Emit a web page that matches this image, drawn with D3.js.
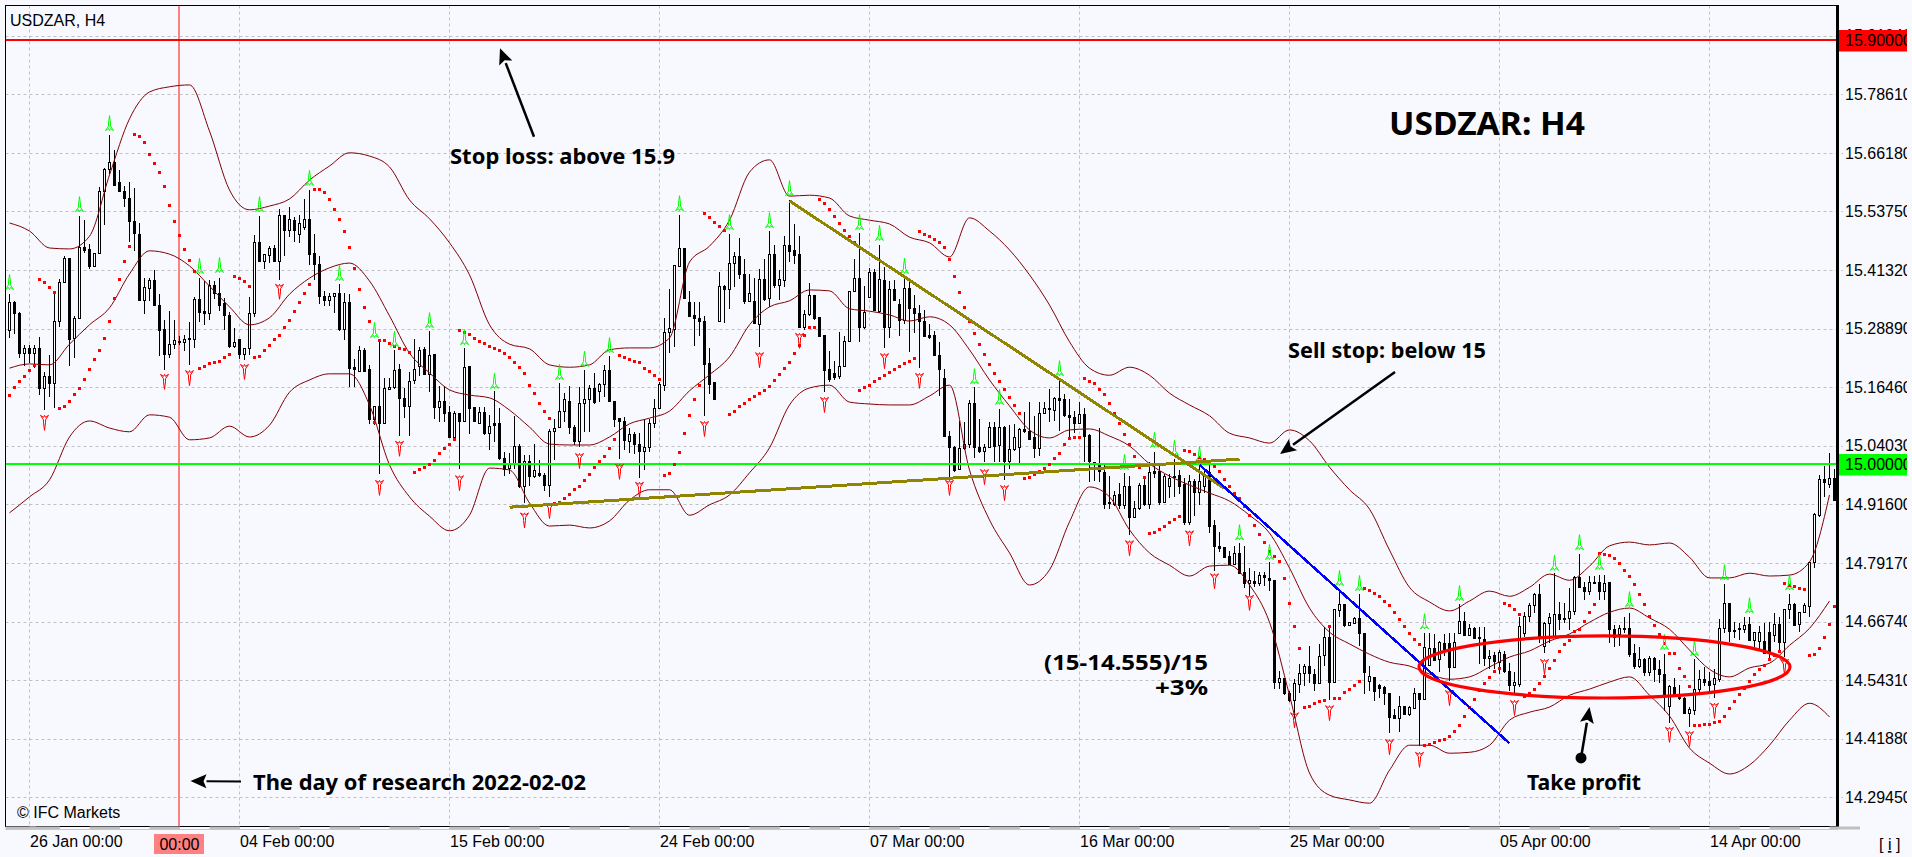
<!DOCTYPE html>
<html>
<head>
<meta charset="utf-8">
<title>USDZAR H4</title>
<script src="https://cdn.jsdelivr.net/npm/d3@7"></script>
<style>
body { margin: 0; background: #f8f9ff; }
svg { display: block; }
text { font-family: "Liberation Sans", Arial, sans-serif; fill: #000; }
</style>
</head>
<body>
<svg id="chart" width="1912" height="857"></svg>
<script>
// Candles, one per H4 bar, prices in thousandths
var opens = [
15284,15345,15320,15237,15246,15237,15246,15161,15187,15172,
15303,15387,15437,15267,15311,15461,15456,15420,15449,15580,
15626,15641,15599,15580,15565,15517,15489,15349,15375,15392,
15339,15287,15234,15255,15262,15260,15267,15266,15350,15325,
15322,15380,15364,15343,15316,15252,15266,15235,15246,15322,
15472,15431,15444,15459,15431,15529,15497,15518,15489,15504,
15521,15448,15424,15357,15348,15358,15363,15288,15344,15207,
15199,15243,15202,15097,15123,15088,15160,15164,15203,15141,
15124,15179,15209,15244,15191,15233,15121,15135,15110,15057,
15108,15092,15208,15122,15088,15112,15067,15087,15087,15014,
14992,15003,15038,14953,15008,14976,14982,14977,14957,15070,
15080,15113,15135,15080,15049,15131,15138,15162,15156,15170,
15201,15135,15098,15091,15049,15064,15043,15029,15036,15087,
15119,15168,15281,15288,15421,15458,15344,15316,15310,15303,
15214,15174,15305,15379,15372,15427,15441,15404,15346,15347,
15298,15393,15352,15446,15380,15392,15465,15455,15446,15291,
15319,15359,15312,15275,15203,15194,15188,15208,15261,15367,
15395,15291,15354,15407,15326,15392,15292,15372,15340,15306,
15374,15331,15320,15304,15275,15275,15232,15184,15060,15037,
14991,15035,15042,15130,15037,15028,15037,15079,15040,15079,
15008,15032,15037,15074,15070,15058,15035,15109,15120,15116,
15141,15138,15105,15100,15087,15107,15063,15005,15002,14983,
14921,14916,14937,14914,14954,14889,14907,14956,14916,14986,
14986,14921,14955,14975,14978,14959,14877,14964,14942,14955,
14983,14872,14826,14824,14805,14789,14812,14771,14749,14753,
14748,14766,14759,14755,14539,14547,14514,14500,14534,14557,
14572,14556,14535,14595,14634,14539,14690,14704,14659,14664,
14673,14643,14540,14549,14531,14528,14515,14467,14462,14488,
14471,14483,14514,14503,14574,14611,14586,14620,14620,14570,
14643,14668,14637,14653,14632,14630,14588,14595,14581,14597,
14561,14531,14533,14643,14679,14701,14725,14614,14664,14635,
14683,14674,14674,14688,14761,14739,14731,14751,14751,14732,
14751,14650,14639,14653,14653,14599,14572,14586,14560,14590,
14565,14556,14487,14528,14512,14505,14473,14479,14524,14544,
14540,14533,14544,14653,14705,14648,14653,14651,14662,14627,
14626,14626,14645,14637,14662,14623,14693,14704,14662,14687,
14699,14793,14893,14969,14958,14971];

var highs = [
15362,15348,15325,15255,15255,15255,15271,15197,15234,15368,
15394,15442,15438,15315,15527,15520,15468,15450,15590,15630,
15699,15667,15625,15591,15599,15588,15514,15396,15396,15413,
15362,15308,15327,15308,15273,15275,15303,15356,15397,15389,
15392,15391,15396,15354,15325,15290,15266,15247,15357,15487,
15527,15447,15464,15466,15543,15529,15547,15526,15530,15563,
15582,15490,15442,15368,15364,15363,15383,15364,15362,15224,
15251,15247,15212,15125,15263,15184,15184,15244,15214,15163,
15196,15267,15249,15249,15284,15233,15168,15168,15125,15115,
15108,15247,15208,15122,15122,15122,15106,15156,15120,15027,
15024,15103,15045,15020,15020,15045,15010,14982,15077,15098,
15174,15152,15167,15084,15165,15201,15169,15194,15173,15212,
15231,15135,15099,15102,15078,15070,15068,15098,15098,15140,
15175,15312,15372,15423,15530,15460,15369,15345,15345,15315,
15248,15174,15409,15381,15489,15452,15482,15436,15405,15397,
15416,15437,15497,15467,15413,15485,15561,15510,15486,15328,
15385,15361,15313,15275,15241,15220,15282,15273,15368,15436,
15492,15379,15418,15416,15467,15420,15390,15392,15351,15400,
15390,15360,15340,15328,15298,15284,15261,15203,15072,15040,
15093,15091,15138,15164,15097,15045,15090,15090,15119,15083,
15084,15086,15079,15111,15133,15104,15133,15133,15160,15143,
15180,15150,15140,15114,15133,15121,15065,15006,15079,15001,
14976,14944,14962,14982,14976,14923,14962,14976,15005,15028,
14997,14980,14980,15012,14990,14973,14978,14969,14999,14987,
14999,14882,14858,14826,14817,14827,14835,14827,14782,14775,
14772,14772,14794,14755,14563,14547,14521,14546,14577,14577,
14616,14567,14620,14656,14659,14694,14733,14704,14666,14678,
14726,14644,14574,14549,14535,14531,14515,14481,14510,14488,
14488,14526,14514,14644,14643,14641,14627,14641,14644,14644,
14704,14687,14662,14655,14655,14656,14606,14602,14606,14604,
14580,14561,14678,14688,14706,14727,14747,14667,14685,14770,
14708,14706,14739,14764,14810,14752,14764,14764,14767,14766,
14752,14660,14660,14678,14685,14619,14614,14590,14595,14592,
14586,14599,14533,14547,14533,14508,14487,14587,14565,14572,
14561,14566,14672,14747,14706,14667,14664,14678,14678,14646,
14657,14665,14667,14685,14678,14695,14725,14706,14687,14706,
14794,14897,14979,14997,15024,14992];

var lows = [
15268,15278,15226,15209,15216,15206,15149,15116,15144,15121,
15292,15385,15209,15227,15309,15449,15416,15419,15449,15509,
15618,15591,15579,15547,15473,15454,15349,15320,15347,15339,
15230,15202,15227,15246,15255,15241,15211,15248,15303,15297,
15308,15352,15327,15287,15248,15247,15225,15223,15234,15313,
15431,15416,15428,15431,15392,15444,15484,15473,15470,15499,
15423,15392,15341,15337,15337,15323,15284,15265,15166,15166,
15196,15198,15087,15084,14980,15088,15160,15161,15061,15100,
15061,15172,15189,15191,15155,15098,15091,15091,15057,15050,
14991,15092,15066,15092,15088,15063,15031,15049,15010,14977,
14981,14992,14950,14918,14954,14971,14975,14945,14931,15011,
15080,15091,15065,15042,15038,15070,15069,15130,15133,15143,
15133,15080,15013,15031,15024,15022,14973,14989,15027,15078,
15119,15157,15238,15250,15421,15353,15315,15252,15273,15104,
15150,15139,15305,15301,15331,15378,15394,15342,15346,15298,
15250,15347,15335,15376,15349,15377,15430,15425,15291,15287,
15316,15308,15273,15155,15176,15179,15181,15208,15261,15366,
15260,15289,15353,15328,15323,15247,15268,15347,15273,15298,
15239,15279,15205,15272,15266,15231,15145,15060,14975,14985,
14989,15032,15035,15014,15026,15005,15035,15005,15005,14967,
14991,15030,15001,15068,15053,15015,15018,15107,15090,15093,
15071,15102,15056,15068,15087,15005,14964,14966,14964,14906,
14907,14913,14907,14906,14851,14888,14904,14913,14906,14973,
14915,14920,14930,14932,14937,14872,14872,14892,14914,14941,
14856,14775,14814,14802,14788,14788,14768,14738,14722,14740,
14742,14742,14733,14524,14524,14512,14496,14462,14516,14531,
14537,14521,14535,14574,14502,14537,14676,14655,14657,14662,
14616,14514,14521,14498,14505,14491,14431,14462,14434,14471,
14466,14482,14404,14503,14574,14583,14560,14595,14542,14570,
14643,14636,14636,14630,14577,14574,14567,14567,14556,14558,
14519,14515,14528,14635,14667,14685,14621,14600,14621,14635,
14650,14664,14650,14681,14738,14713,14724,14747,14713,14713,
14621,14614,14616,14644,14592,14566,14568,14551,14552,14540,
14537,14477,14452,14508,14501,14472,14443,14470,14515,14530,
14519,14505,14540,14644,14625,14632,14628,14644,14628,14614,
14607,14600,14586,14625,14607,14593,14672,14657,14646,14685,
14678,14782,14890,14932,14950,14924];

var closes = [
15345,15321,15237,15246,15237,15246,15161,15187,15173,15303,
15387,15438,15266,15311,15461,15454,15420,15449,15580,15626,
15642,15592,15579,15565,15516,15490,15349,15377,15391,15339,
15285,15234,15256,15263,15260,15266,15266,15350,15323,15322,
15380,15363,15339,15316,15252,15259,15235,15246,15322,15472,
15431,15447,15459,15431,15529,15497,15520,15497,15512,15521,
15446,15424,15357,15348,15358,15363,15288,15344,15205,15202,
15243,15199,15097,15123,15087,15162,15165,15201,15141,15124,
15177,15203,15242,15191,15231,15121,15134,15109,15057,15108,
15092,15207,15120,15092,15112,15066,15082,15084,15013,14991,
15003,15038,14955,15008,14975,14987,14977,14957,15070,15078,
15114,15139,15080,15049,15131,15138,15162,15132,15170,15201,
15135,15096,15091,15052,15064,15042,15029,15036,15087,15119,
15170,15281,15290,15423,15458,15353,15315,15310,15303,15213,
15171,15139,15379,15372,15427,15441,15403,15346,15364,15299,
15393,15351,15446,15380,15393,15465,15453,15445,15291,15319,
15359,15311,15273,15201,15180,15186,15208,15261,15367,15395,
15291,15323,15407,15328,15393,15292,15372,15349,15306,15374,
15331,15320,15305,15272,15271,15231,15203,15060,15037,14987,
15035,15042,15130,15037,15028,15037,15079,15039,15079,15008,
15032,15058,15075,15070,15054,15035,15109,15119,15118,15141,
15136,15104,15100,15087,15107,15061,15008,15001,14985,14916,
14918,14935,14914,14954,14889,14907,14957,14916,14983,14981,
14921,14975,14971,14973,14955,14877,14964,14942,14964,14978,
14870,14826,14822,14803,14789,14812,14770,14749,14755,14749,
14766,14760,14754,14539,14547,14514,14500,14537,14558,14572,
14557,14537,14594,14634,14539,14692,14704,14660,14666,14673,
14641,14560,14551,14519,14526,14514,14464,14462,14488,14471,
14486,14514,14502,14613,14611,14584,14622,14609,14570,14623,
14668,14637,14653,14632,14634,14589,14594,14582,14601,14561,
14531,14538,14657,14678,14701,14725,14635,14664,14676,14683,
14671,14671,14688,14761,14739,14731,14750,14749,14732,14748,
14650,14633,14653,14650,14597,14572,14586,14559,14588,14565,
14556,14508,14530,14512,14505,14473,14480,14524,14544,14538,
14532,14547,14653,14706,14646,14646,14650,14659,14628,14645,
14645,14600,14600,14662,14623,14694,14704,14659,14687,14701,
14793,14895,14969,14962,14971,14925];

// Bollinger bands, read at every 4th bar
var bandUpper = [
15513,15496,15460,15458,15485,15615,15734,15791,15802,15806,
15708,15583,15541,15549,15564,15604,15634,15662,15655,15632,
15562,15522,15471,15403,15297,15256,15246,15212,15207,15212,
15244,15248,15248,15269,15430,15464,15519,15621,15647,15570,
15572,15566,15528,15519,15511,15483,15471,15441,15524,15496,
15456,15403,15339,15261,15205,15190,15207,15190,15152,15127,
15104,15067,15057,15046,15074,15051,14995,14947,14906,14819,
14740,14709,14690,14711,14732,14721,14740,14768,14755,14785,
14828,14836,14830,14834,14804,14760,14760,14770,14764,14766,
14794,14936];

var bandMiddle = [
15205,15214,15212,15256,15297,15333,15405,15454,15447,15422,
15379,15335,15297,15312,15362,15396,15418,15428,15390,15316,
15237,15195,15159,15148,15142,15116,15080,15044,15042,15042,
15059,15087,15099,15114,15157,15191,15229,15297,15335,15348,
15371,15369,15331,15326,15318,15305,15314,15297,15244,15180,
15125,15074,15057,15074,15076,15061,15040,15002,14976,14957,
14940,14923,14893,14855,14781,14696,14645,14620,14598,14581,
14573,14556,14545,14550,14571,14592,14605,14626,14641,14666,
14687,14696,14675,14651,14607,14566,14550,14569,14579,14617,
14653,14711];

var bandLower = [
14898,14932,14968,15059,15093,15078,15070,15106,15101,15053,
15057,15082,15059,15084,15154,15180,15193,15193,15127,15000,
14932,14891,14860,14893,14993,14989,14919,14870,14872,14866,
14881,14925,14947,14947,14893,14915,14936,14983,15036,15127,
15163,15169,15133,15129,15127,15127,15146,15169,14989,14883,
14813,14745,14777,14879,14953,14932,14862,14813,14787,14764,
14785,14787,14745,14666,14511,14346,14299,14289,14282,14352,
14405,14405,14388,14390,14405,14458,14475,14486,14511,14524,
14539,14550,14511,14467,14399,14367,14344,14363,14405,14458,
14494,14465];

// Parabolic SAR, one dot per bar
var sar = [
15148,15163,15176,15188,15201,15210,15393,15387,15376,15366,
15119,15123,15135,15149,15161,15182,15203,15223,15242,15269,15305,15353,15393,15432,15464,
15700,15696,15683,15659,15640,15621,15590,15551,15516,15486,15457,15433,15410,
15205,15209,15214,15216,15219,15227,15235,
15400,15395,15388,15379,
15227,15230,15243,15254,15265,15275,15291,15306,15326,15345,15363,15382,
15585,15585,15577,15562,15542,15521,15494,15462,15417,15372,15334,15304,
15089,
15264,15264,15258,15251,15247,15245,15239,
14984,14989,14995,15001,15010,15024,15034,15044,15054,
15286,15281,15276,15269,15262,15258,15251,15247,15243,15237,15227,15218,15207,15193,15169,15151,15131,15114,15098,
14917,14920,14929,14936,14947,14954,14967,14979,14994,15007,15017,15035,15053,
15232,15228,15224,15220,15216,15205,15197,15190,15180,
14977,14982,15001,15026,15066,15104,15138,15169,
15533,15525,15515,15506,15498,
15106,15114,15123,15130,15138,15145,15151,15158,15166,15178,15191,15204,15216,15236,15254,15275,15291,15291,
15562,15555,15541,15526,15511,15497,15485,15471,
15157,15164,15169,15176,15183,15190,15196,15203,15208,15215,15219,15225,
15494,15488,15484,15477,15472,15460,15435,15399,15365,15333,15305,15278,15255,15234,15212,15193,15176,15160,15143,15125,15109,
14971,14973,14980,14985,14992,15000,15013,15025,15042,15056,15058,15058,
15183,15176,15173,15160,15149,15129,15108,15087,15065,15042,15017,14994,14974,
14854,14856,14863,14870,14877,14883,14891,
15031,15028,15021,15016,15012,15006,14996,14985,14969,14954,14940,14928,14911,14893,14872,14853,14835,14817,14805,14795,14759,14706,14657,14611,
14486,14488,14493,14498,14500,14657,14505,14505,14516,14524,14531,14541,
14738,14733,14727,14721,14710,14701,14687,14671,14657,14641,14630,14618,
14404,14406,14410,14416,14418,14424,14434,14447,14466,14486,14503,14521,14535,14549,14561,14567,
14705,14701,14693,14683,
14508,14515,14524,14537,14551,14568,14584,14604,14618,14628,14646,14651,14667,14687,14703,
14811,14810,14808,14801,14791,14775,14764,14746,14725,14703,14679,14659,14640,14621,14600,14600,14568,14551,14530,
14446,14446,14448,14450,14453,14455,14465,14482,14498,14513,14526,14540,14554,14565,14575,14586,14595,14604,
14748,14743,14741,14738,14735,
14596,14598,14610,14634,14662,14700];

// Fractal markers: bar index and price at the marker centre
var fractalUpBars = [0,14,20,38,42,50,60,66,73,77,84,91,97,110,115,120,134,144,152,156,170,174,179,193,198,210,223,229,233,238,246,252,266,270,283,290,309,314,318,324,331,337,343,348,356];
var fractalUpPrices = [15388,15553,15725,15422,15424,15553,15609,15407,15286,15267,15307,15271,15178,15197,15225,15254,15555,15515,15519,15587,15515,15492,15422,15188,15144,15205,15006,15053,15036,15023,14857,14815,14760,14749,14668,14728,14792,14836,14794,14715,14624,14611,14772,14702,14751];
var fractalDownBars = [7,31,36,47,54,74,78,90,103,108,114,122,126,139,150,158,163,175,182,188,195,199,224,236,241,248,257,264,276,282,288,301,307,332,336,341,355];
var fractalDownPrices = [15089,15176,15184,15197,15367,14951,15034,14961,14882,14902,15008,14985,14947,15076,15222,15263,15127,15220,15178,14951,14974,14940,14823,14844,14753,14707,14458,14473,14401,14374,14505,14484,14571,14427,14418,14478,14571];

// Axis ticks
var priceTicks = [15.9104,15.7861,15.6618,15.5375,15.4132,15.2889,15.1646,15.0403,14.916,14.7917,14.6674,14.5431,14.4188,14.2945];
var dateBars = [4,46,88,130,172,214,256,298,340];
var dateLabels = ['26 Jan 00:00','04 Feb 00:00','15 Feb 00:00','24 Feb 00:00','07 Mar 00:00','16 Mar 00:00','25 Mar 00:00','05 Apr 00:00','14 Apr 00:00'];
var researchBar = 34;

// Levels and drawn lines, [bar, price] ends
var stopLevel = 15.9;
var entryLevel = 15;
var supportLine = [[100,14.910],[246,15.012]];
var resistanceLine = [[156,15.560],[243,14.950]];
var targetLine = [[238,15.000],[300,14.409]];

var x = d3.scaleLinear().domain([0,365]).range([9.5,1834.5]);
var y = d3.scaleLinear().domain([14.2945,15.7861]).range([797.3,94.3]);
var py = function(v){ return y(v/1000); };

var svg = d3.select('#chart');
var left = 5.5, right = 1837, top_ = 5.5, bottom = 826;

svg.append('defs').append('clipPath').attr('id','labelClip')
	.append('rect').attr('x',1838).attr('y',0).attr('width',69).attr('height',857);
svg.select('defs').append('clipPath').attr('id','plotClip')
	.append('rect').attr('x',left).attr('y',top_).attr('width',right-left).attr('height',bottom-top_);

// Grid
svg.append('g').selectAll('line')
	.data(priceTicks).enter().append('line')
	.attr('x1',left).attr('x2',1843)
	.attr('y1',function(d){return Math.round(y(d))+0.5;}).attr('y2',function(d){return Math.round(y(d))+0.5;})
	.attr('stroke','#c0c0c0').attr('stroke-dasharray','3,3');
svg.append('g').selectAll('line')
	.data(dateBars).enter().append('line')
	.attr('y1',top_).attr('y2',bottom+3)
	.attr('x1',function(d){return x(d);}).attr('x2',function(d){return x(d);})
	.attr('stroke','#c0c0c0').attr('stroke-dasharray','3,3');

// Day of research marker
svg.append('line')
	.attr('x1',Math.floor(x(researchBar))).attr('x2',Math.floor(x(researchBar))).attr('y1',top_).attr('y2',bottom)
	.attr('stroke','#ff8080').attr('stroke-width',2).attr('shape-rendering','crispEdges');

var plot = svg.append('g').attr('clip-path','url(#plotClip)');
var bars = d3.range(opens.length);

// Wicks
plot.append('g').attr('shape-rendering','crispEdges').selectAll('line')
	.data(bars).enter().append('line')
	.attr('x1',function(i){return x(i);}).attr('x2',function(i){return x(i);})
	.attr('y1',function(i){return py(highs[i]);}).attr('y2',function(i){return py(lows[i]);})
	.attr('stroke','#000');

// Bodies
plot.append('g').attr('shape-rendering','crispEdges').selectAll('rect')
	.data(bars).enter().append('rect')
	.attr('x',function(i){return x(i)-1;})
	.attr('width',2)
	.attr('y',function(i){return py(Math.max(opens[i],closes[i]));})
	.attr('height',function(i){return Math.max(1,Math.abs(py(opens[i])-py(closes[i])));})
	.attr('fill',function(i){return closes[i]>=opens[i] ? '#fff' : '#000';})
	.attr('stroke','#000');

// Bollinger bands
var bandBars = d3.range(0,365,4);
var bandLine = d3.line()
	.x(function(d,i){return x(bandBars[i]);})
	.y(function(d){return py(d);})
	.curve(d3.curveMonotoneX);
[bandUpper,bandMiddle,bandLower].forEach(function(band){
	plot.append('path').attr('d',bandLine(band))
		.attr('fill','none').attr('stroke','#800000').attr('stroke-width',1);
});

// Horizontal levels
plot.append('line').attr('x1',left).attr('x2',right).attr('y1',Math.floor(y(stopLevel))).attr('y2',Math.floor(y(stopLevel)))
	.attr('stroke','#ff0000').attr('stroke-width',2).attr('shape-rendering','crispEdges');
plot.append('line').attr('x1',left).attr('x2',right).attr('y1',Math.floor(y(entryLevel))).attr('y2',Math.floor(y(entryLevel)))
	.attr('stroke','#00ff00').attr('stroke-width',2).attr('shape-rendering','crispEdges');

// Parabolic SAR
plot.append('g').attr('shape-rendering','crispEdges').selectAll('rect')
	.data(sar).enter().append('rect')
	.attr('x',function(d,i){return x(i)-1.5;})
	.attr('y',function(d){return py(d)-1.5;})
	.attr('width',3).attr('height',3)
	.attr('fill','#ff0000');

// Fractals
var arrowPath = 'M0,-7.5L-1,0L-1,3L-4,7.5L-1,5.5L0,7.5L1,5.5L4,7.5L1,3L1,0Z';
plot.append('g').selectAll('path')
	.data(fractalUpBars).enter().append('path')
	.attr('d',arrowPath)
	.attr('transform',function(d,i){return 'translate('+x(d)+','+py(fractalUpPrices[i])+')';})
	.attr('fill','none').attr('stroke','#00ff00').attr('stroke-width',1);
plot.append('g').selectAll('path')
	.data(fractalDownBars).enter().append('path')
	.attr('d',arrowPath)
	.attr('transform',function(d,i){return 'translate('+x(d)+','+py(fractalDownPrices[i])+') scale(1,-1)';})
	.attr('fill','none').attr('stroke','#ff0000').attr('stroke-width',1);

// Trend lines
function drawSegment(pts,color,width){
	plot.append('line')
		.attr('x1',x(pts[0][0])).attr('y1',y(pts[0][1]))
		.attr('x2',x(pts[1][0])).attr('y2',y(pts[1][1]))
		.attr('stroke',color).attr('stroke-width',width).attr('shape-rendering','crispEdges');
}
drawSegment(supportLine,'#8f8500',3);
drawSegment(resistanceLine,'#8f8500',3);
drawSegment(targetLine,'#0000ff',2.5);

// Take profit ellipse
plot.append('ellipse')
	.attr('cx',x(319)).attr('cy',y(14.571))
	.attr('rx',x(37.1)-x(0)).attr('ry',y(14.571-0.0658)-y(14.571))
	.attr('fill','none').attr('stroke','#ff0000').attr('stroke-width',3.2);

// Frame
svg.append('rect').attr('x',left).attr('y',top_).attr('width',right-left).attr('height',bottom-top_)
	.attr('fill','none').attr('stroke','#000').attr('shape-rendering','crispEdges');
svg.append('rect').attr('x',1836).attr('y',5).attr('width',3).attr('height',bottom-4).attr('fill','#000');

// Strip under the plot
var stripStarts = d3.range(-1,31);
svg.append('g').selectAll('rect')
	.data(stripStarts).enter().append('rect')
	.attr('x',function(d){return Math.max(left,x(4)+d*60);})
	.attr('width',30.5)
	.attr('y',bottom+0.5).attr('height',3)
	.attr('fill','#c0c0c0');
svg.append('line').attr('x1',left).attr('x2',1838).attr('y1',829.5).attr('y2',829.5).attr('stroke','#c8c8c8');

// Price axis, labels are cut off at the image edge like the terminal does
var yAxis = d3.axisRight(y).tickValues(priceTicks).tickFormat(d3.format('.5f')).tickSize(0).tickPadding(0);
var yAxisG = svg.append('g').attr('clip-path','url(#labelClip)').append('g').attr('transform','translate(1845,0)');
yAxisG.call(yAxis);
yAxisG.select('.domain').remove();
yAxisG.selectAll('text').attr('font-size',16).style('font-family','"Liberation Sans"');

// Coloured price flags over the axis
function priceFlag(level,color){
	svg.append('rect').attr('x',1839).attr('width',68)
		.attr('y',Math.round(y(level))-11).attr('height',21.5).attr('fill',color);
	svg.append('text').attr('x',1845).attr('y',y(level)+5.5).attr('font-size',16)
		.attr('clip-path','url(#labelClip)').text(d3.format('.5f')(level));
}
priceFlag(stopLevel,'#ff0000');
priceFlag(entryLevel,'#00ff00');

// Date axis
var xAxis = d3.axisBottom(x).tickValues(dateBars)
	.tickFormat(function(d){return dateLabels[dateBars.indexOf(d)];})
	.tickSize(0).tickPadding(0);
var xAxisG = svg.append('g').attr('transform','translate(0,836)');
xAxisG.call(xAxis);
xAxisG.select('.domain').remove();
xAxisG.selectAll('text').attr('text-anchor','start').attr('font-size',16).style('font-family','"Liberation Sans"');

svg.append('rect').attr('x',154).attr('y',834).attr('width',50).attr('height',20).attr('fill','#ff8080');
svg.append('text').attr('x',x(researchBar)).attr('y',850).attr('font-size',16).attr('text-anchor','middle').text('00:00');

// Corner labels
svg.append('text').attr('x',10).attr('y',26).attr('font-size',16).text('USDZAR, H4');
svg.append('text').attr('x',17).attr('y',818).attr('font-size',16).text('\u00a9 IFC Markets');
var info = svg.append('text').attr('x',1879).attr('y',850).attr('font-size',16);
info.append('tspan').text('[ ');
info.append('tspan').attr('text-decoration','underline').text('i');
info.append('tspan').text(' ]');

// Black hand drawn arrows
function drawArrow(from,to,shaft){
	var x0 = x(from[0]), y0 = y(from[1]), x1 = x(to[0]), y1 = y(to[1]);
	var a = Math.atan2(y1-y0,x1-x0);
	var ux = Math.cos(a), uy = Math.sin(a);
	var bx = x1-ux*16, by = y1-uy*16;
	svg.append('line').attr('x1',x0).attr('y1',y0).attr('x2',bx).attr('y2',by)
		.attr('stroke','#000').attr('stroke-width',shaft);
	svg.append('polygon')
		.attr('points',[[x1,y1],[bx-uy*7,by+ux*7],[bx+ux*3,by+uy*3],[bx+uy*7,by-ux*7]].join(' '))
		.attr('fill','#000');
}
drawArrow([104.9,15.696],[98.1,15.884],2.5);
drawArrow([46.3,14.328],[36.2,14.329],2);
drawArrow([277.1,15.197],[254.1,15.023],2.5);
drawArrow([314.3,14.378],[316,14.486],2.5);
svg.append('circle').attr('cx',x(314.3)).attr('cy',y(14.378)).attr('r',5.5).attr('fill','#000');

// Notes
function note(px,pyy,str,width,size){
	svg.append('text').attr('x',px).attr('y',pyy)
		.attr('font-size',size).attr('font-weight','bold')
		.attr('textLength',width).attr('lengthAdjust','spacingAndGlyphs')
		.style('font-family','"Noto Sans"').text(str);
}
note(450,164,'Stop loss: above 15.9',225,21);
note(1288,358,'Sell stop: below 15',198,21);
note(253,790,'The day of research 2022-02-02',333,21);
note(1044,670,'(15-14.555)/15',164,21);
note(1155,695,'+3%',53,21);
note(1527,790,'Take profit',114,21);
note(1389,135,'USDZAR: H4',196,32.5);
</script>
</body>
</html>
